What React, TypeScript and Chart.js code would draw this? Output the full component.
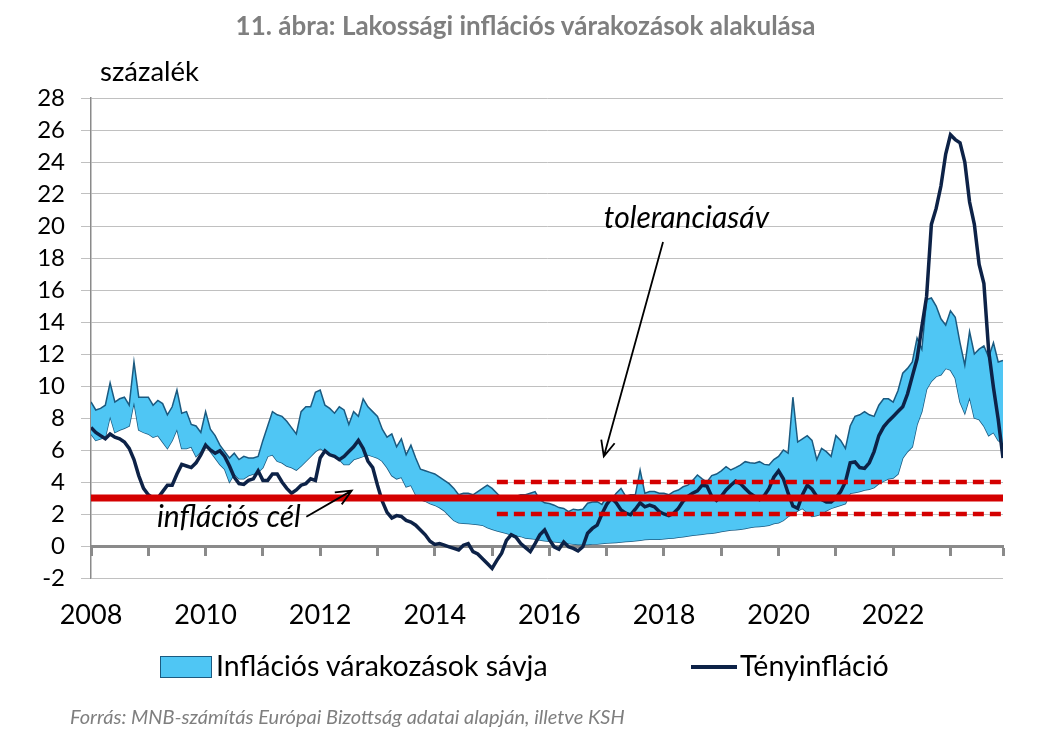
import React, { useEffect, useRef } from 'react';
import { Chart, registerables } from 'chart.js';

Chart.register(...registerables);

// ---------- data (monthly, Jan 2008 = month 0 … Dec 2023 = month 191) ----------
const START_YEAR = 2008;
const yearTickMonths = [0, 12, 24, 36, 48, 60, 72, 84, 96, 108, 120, 132, 144, 156, 168, 180, 191];
const labeledYears = ['2008', '2010', '2012', '2014', '2016', '2018', '2020', '2022'];

// Tényinfláció (%)
const actualInflation = [
  7.4, 7.1, 6.9, 6.7, 7.0, 6.8, 6.7, 6.5, 6.1, 5.4, 4.4, 3.6, // 2008
  3.2, 3.0, 3.0, 3.4, 3.8, 3.8, 4.5, 5.1, 5.0, 4.9, 5.2, 5.7, // 2009
  6.3, 6.0, 5.8, 5.95, 5.6, 5.0, 4.3, 3.9, 3.85, 4.1, 4.2, 4.7, // 2010
  4.1, 4.1, 4.5, 4.5, 4.0, 3.6, 3.3, 3.5, 3.8, 3.9, 4.2, 4.1, // 2011
  5.5, 5.95, 5.7, 5.6, 5.4, 5.6, 5.9, 6.2, 6.6, 6.1, 5.3, 4.9, // 2012
  3.8, 2.8, 2.1, 1.75, 1.9, 1.85, 1.6, 1.5, 1.3, 1.0, 0.7, 0.3, // 2013
  0.1, 0.15, 0.05, -0.05, -0.15, -0.25, 0.05, 0.15, -0.35, -0.5, -0.8, -1.1, // 2014
  -1.4, -0.9, -0.45, 0.35, 0.7, 0.55, 0.15, -0.1, -0.35, 0.15, 0.7, 1.0, // 2015
  0.4, -0.05, -0.2, 0.25, -0.05, -0.15, -0.3, -0.05, 0.8, 1.1, 1.3, 2.0, // 2016
  2.6, 3.0, 2.7, 2.25, 2.05, 1.95, 2.3, 2.7, 2.45, 2.55, 2.45, 2.15, // 2017
  2.0, 1.9, 2.05, 2.35, 2.8, 3.1, 3.3, 3.45, 3.8, 3.75, 3.1, 2.85, // 2018
  3.1, 3.5, 3.8, 4.05, 3.9, 3.6, 3.3, 3.1, 2.9, 3.15, 3.6, 4.3, // 2019
  4.7, 4.2, 3.3, 2.5, 2.35, 3.2, 3.8, 3.55, 3.1, 2.9, 2.75, 2.75, // 2020
  3.0, 3.4, 4.0, 5.2, 5.25, 4.9, 4.85, 5.2, 5.9, 6.9, 7.45, 7.8, // 2021
  8.1, 8.4, 8.7, 9.5, 10.6, 11.7, 13.7, 15.6, 20.1, 21.1, 22.5, 24.5, // 2022
  25.7, 25.4, 25.2, 24.0, 21.5, 20.1, 17.6, 16.4, 12.2, 9.9, 7.9, 5.5, // 2023
];

// Inflációs várakozások sávja – alsó szél (%)
const bandLower = [
  7.0, 6.6, 6.7, 6.8, 8.1, 7.1, 7.25, 7.36, 7.5, 9.0, 7.25, 7.1, // 2008
  7.0, 6.8, 6.9, 6.5, 6.1, 6.6, 7.3, 6.1, 6.1, 6.2, 5.6, 5.9, // 2009
  6.5, 5.9, 5.5, 5.1, 4.8, 4.0, 4.5, 4.2, 4.2, 4.4, 4.5, 4.6, // 2010
  4.9, 5.6, 5.7, 5.3, 5.2, 5.0, 4.9, 4.75, 5.0, 5.3, 5.6, 5.9, // 2011
  6.1, 5.9, 5.8, 5.6, 5.4, 5.1, 5.1, 5.4, 5.5, 5.6, 5.7, 5.6, // 2012
  5.5, 5.3, 4.9, 4.4, 4.2, 4.3, 3.7, 3.8, 3.2, 2.9, 2.8, 2.65, // 2013
  2.55, 2.4, 2.2, 1.9, 1.6, 1.45, 1.42, 1.4, 1.38, 1.35, 1.3, 1.15, // 2014
  1.05, 0.95, 0.88, 0.8, 0.7, 0.65, 0.6, 0.5, 0.47, 0.43, 0.38, 0.33, // 2015
  0.3, 0.27, 0.23, 0.18, 0.15, 0.12, 0.1, 0.1, 0.1, 0.12, 0.13, 0.15, // 2016
  0.18, 0.2, 0.22, 0.25, 0.28, 0.3, 0.33, 0.36, 0.4, 0.42, 0.42, 0.42, // 2017
  0.45, 0.48, 0.5, 0.54, 0.58, 0.62, 0.67, 0.7, 0.74, 0.78, 0.8, 0.85, // 2018
  0.9, 0.95, 1.0, 1.02, 1.05, 1.1, 1.15, 1.2, 1.22, 1.25, 1.3, 1.4, // 2019
  1.45, 1.6, 1.85, 2.0, 2.2, 2.35, 2.1, 1.85, 1.9, 2.0, 2.2, 2.35, // 2020
  2.45, 2.55, 2.65, 3.3, 3.35, 3.4, 3.5, 3.55, 3.65, 3.9, 4.05, 4.2, // 2021
  4.25, 4.5, 5.5, 5.9, 6.2, 7.6, 8.4, 9.8, 10.3, 10.6, 10.7, 11.1, // 2022
  11.0, 10.5, 9.0, 8.3, 9.3, 8.0, 7.9, 7.5, 6.9, 7.1, 6.6, 6.4, // 2023
];

// Inflációs várakozások sávja – felső szél (%)
const bandUpper = [
  9.0, 8.5, 8.6, 8.8, 10.2, 9.0, 9.2, 9.3, 8.8, 11.5, 9.3, 9.3, // 2008
  9.3, 8.8, 9.1, 8.9, 8.2, 8.7, 9.75, 8.3, 8.4, 7.6, 7.5, 7.1, // 2009
  8.4, 7.3, 6.9, 6.3, 5.9, 5.5, 5.8, 5.4, 5.6, 5.5, 5.5, 5.6, // 2010
  6.6, 7.5, 8.4, 8.2, 8.1, 7.8, 7.4, 7.0, 8.4, 8.7, 8.7, 9.6, // 2011
  9.75, 8.8, 8.6, 8.3, 8.7, 8.5, 7.6, 8.4, 8.1, 9.2, 8.7, 8.4, // 2012
  8.1, 7.3, 6.8, 7.0, 6.2, 6.7, 5.7, 6.3, 5.5, 4.8, 4.7, 4.6, // 2013
  4.5, 4.3, 4.1, 3.9, 3.6, 3.2, 3.3, 3.3, 3.2, 3.4, 3.6, 3.8, // 2014
  3.6, 3.3, 3.0, 3.0, 3.0, 3.1, 3.2, 3.2, 3.3, 3.4, 2.9, 2.7, // 2015
  2.65, 2.55, 2.4, 2.35, 2.15, 2.3, 2.25, 2.3, 2.67, 2.75, 2.77, 2.6, // 2016
  3.1, 2.9, 3.3, 3.6, 3.1, 3.2, 3.2, 4.75, 3.3, 3.4, 3.4, 3.3, // 2017
  3.3, 3.2, 3.4, 3.5, 3.7, 3.8, 4.1, 4.44, 4.2, 4.0, 4.4, 4.5, // 2018
  4.7, 4.96, 4.75, 4.9, 5.06, 5.27, 5.2, 5.17, 5.27, 5.1, 5.06, 5.4, // 2019
  5.6, 6.0, 5.8, 9.3, 6.5, 6.7, 6.9, 6.6, 5.4, 6.1, 5.9, 5.6, // 2020
  6.9, 6.6, 6.1, 7.5, 8.1, 8.2, 8.4, 8.2, 8.1, 8.8, 9.2, 9.2, // 2021
  9.0, 9.7, 10.8, 11.1, 11.5, 13.0, 12.3, 15.4, 15.5, 15.0, 14.2, 13.8, // 2022
  14.7, 14.3, 12.7, 11.3, 13.4, 12.0, 12.3, 12.5, 11.8, 12.7, 11.5, 11.6, // 2023
];

const inflationTarget = 3;
const toleranceLow = 2;
const toleranceHigh = 4;
const toleranceStartMonth = 85;

// annotation anchors (data coordinates: month index, percent)
const toleranceLabel = { text: 'toleranciasáv', x: 107.4, y: 19.9 };
const toleranceArrow = { from: [119.8, 19.0], to: [107.4, 5.6] };
const targetLabel = { text: 'inflációs cél', x: 13.8, y: 1.2 };
const targetArrow = { from: [45.1, 1.83], to: [54.6, 3.46] };

// ---------- styles ----------
const FONT = 'Lato, "Open Sans", sans-serif';
const BAND_FILL = '#4fc6f4';
const BAND_EDGE = '#1b5a80';
const NAVY = '#0d2247';
const RED = '#d40000';
const GRID = '#c0c0c0';
const AXIS = '#8a8a8a';

const W = 1051;
const H = 740;

const annotationPlugin = {
  id: 'mnbAnnotations',
  afterDatasetsDraw(chart: any) {
    const { ctx, scales } = chart;
    const xs = scales.x;
    const ys = scales.y;
    const px = (m: number) => xs.getPixelForValue(m);
    const py = (v: number) => ys.getPixelForValue(v);
    const arrow = (a: { from: number[]; to: number[] }) => {
      const x1 = px(a.from[0]);
      const y1 = py(a.from[1]);
      const x2 = px(a.to[0]);
      const y2 = py(a.to[1]);
      const ang = Math.atan2(y2 - y1, x2 - x1);
      const len = 17;
      const spread = 0.42;
      ctx.save();
      ctx.strokeStyle = '#000';
      ctx.lineWidth = 1.8;
      ctx.beginPath();
      ctx.moveTo(x1, y1);
      ctx.lineTo(x2, y2);
      ctx.moveTo(x2 - len * Math.cos(ang - spread), y2 - len * Math.sin(ang - spread));
      ctx.lineTo(x2, y2);
      ctx.lineTo(x2 - len * Math.cos(ang + spread), y2 - len * Math.sin(ang + spread));
      ctx.stroke();
      ctx.restore();
    };
    arrow(toleranceArrow);
    arrow(targetArrow);
    ctx.save();
    ctx.fillStyle = '#000';
    ctx.textBaseline = 'alphabetic';
    ctx.textAlign = 'left';
    ctx.font = `italic 30px ${FONT}`;
    ctx.fillText(toleranceLabel.text, px(toleranceLabel.x), py(toleranceLabel.y));
    ctx.fillText(targetLabel.text, px(targetLabel.x), py(targetLabel.y));
    ctx.restore();
  },
};

export default function App() {
  const canvasRef = useRef<HTMLCanvasElement | null>(null);

  useEffect(() => {
    document.body.style.margin = '0';
    const canvas = canvasRef.current;
    if (!canvas) return;
    const pts = (arr: number[]) => arr.map((y, i) => ({ x: i, y }));
    const lastMonth = actualInflation.length - 1;
    const setYearTicks = (axis: any) => {
      axis.ticks = yearTickMonths.map((v) => ({ value: v }));
    };

    const chart = new Chart(canvas, {
      type: 'line',
      data: {
        datasets: [
          {
            label: 'alsó',
            data: pts(bandLower),
            borderColor: BAND_EDGE,
            borderWidth: 1.5,
            pointRadius: 0,
            fill: false,
            order: 5,
            xAxisID: 'x',
            yAxisID: 'y',
          },
          {
            label: 'Inflációs várakozások sávja',
            data: pts(bandUpper),
            borderColor: BAND_EDGE,
            borderWidth: 1.5,
            backgroundColor: BAND_FILL,
            pointRadius: 0,
            fill: '-1',
            order: 4,
            xAxisID: 'x',
            yAxisID: 'y',
          },
          {
            label: 'Tényinfláció',
            data: pts(actualInflation),
            borderColor: NAVY,
            borderWidth: 3.5,
            pointRadius: 0,
            fill: false,
            order: 3,
            xAxisID: 'x',
            yAxisID: 'y',
          },
          {
            label: 'Inflációs cél',
            data: [
              { x: 0, y: inflationTarget },
              { x: lastMonth, y: inflationTarget },
            ],
            borderColor: RED,
            borderWidth: 7,
            pointRadius: 0,
            fill: false,
            order: 1,
            xAxisID: 'x',
            yAxisID: 'y',
          },
          {
            label: 'Toleranciasáv felső',
            data: [
              { x: toleranceStartMonth, y: toleranceHigh },
              { x: lastMonth, y: toleranceHigh },
            ],
            borderColor: RED,
            borderWidth: 4.5,
            borderDash: [11, 6],
            pointRadius: 0,
            fill: false,
            order: 0,
            xAxisID: 'x',
            yAxisID: 'y',
          },
          {
            label: 'Toleranciasáv alsó',
            data: [
              { x: toleranceStartMonth, y: toleranceLow },
              { x: lastMonth, y: toleranceLow },
            ],
            borderColor: RED,
            borderWidth: 4.5,
            borderDash: [11, 6],
            pointRadius: 0,
            fill: false,
            order: 0,
            xAxisID: 'x',
            yAxisID: 'y',
          },
        ],
      },
      options: {
        responsive: false,
        animation: false,
        devicePixelRatio: 1,
        layout: { padding: { left: 0, right: W - 1003, top: 98, bottom: 0 } },
        elements: { line: { tension: 0 } },
        plugins: {
          legend: { display: false },
          tooltip: { enabled: false },
          title: { display: false },
        },
        scales: {
          x: {
            type: 'linear',
            min: 0,
            max: lastMonth,
            position: 'bottom',
            grid: { display: false, drawTicks: false },
            border: { display: false },
            afterBuildTicks: setYearTicks,
            afterFit: (s: any) => {
              s.height = H - 578;
            },
            ticks: {
              autoSkip: false,
              maxRotation: 0,
              padding: 21,
              color: '#000',
              font: { family: FONT, size: 27 },
              callback: (v: any) => {
                const m = Number(v);
                if (m % 24 !== 0) return '';
                const label = labeledYears[m / 24];
                return label ?? String(START_YEAR + m / 12);
              },
            },
          },
          x0: {
            type: 'linear',
            axis: 'x',
            min: 0,
            max: lastMonth,
            position: { y: 0 },
            afterBuildTicks: setYearTicks,
            grid: {
              drawOnChartArea: false,
              drawTicks: true,
              tickLength: 8,
              tickWidth: 3,
              tickColor: AXIS,
            },
            border: { display: true, color: AXIS, width: 3 },
            ticks: { display: false },
          },
          y: {
            type: 'linear',
            min: -2,
            max: 28,
            afterFit: (s: any) => {
              s.width = 91;
            },
            ticks: {
              stepSize: 2,
              padding: 16,
              color: '#000',
              font: { family: FONT, size: 24 },
            },
            grid: {
              color: GRID,
              lineWidth: 1,
              tickLength: 10,
              tickColor: GRID,
            },
            border: { display: true, color: AXIS, width: 1.5 },
          },
        },
      },
      plugins: [annotationPlugin],
    } as any);

    return () => {
      chart.destroy();
    };
  }, []);

  const abs = (extra: React.CSSProperties): React.CSSProperties => ({
    position: 'absolute',
    lineHeight: 1,
    whiteSpace: 'nowrap',
    fontFamily: FONT,
    margin: 0,
    ...extra,
  });

  return (
    <div style={{ position: 'relative', width: W, height: H, background: '#fff', overflow: 'hidden' }}>
      <canvas ref={canvasRef} width={W} height={H} style={{ position: 'absolute', left: 0, top: 0, width: W, height: H }} />
      <div style={abs({ left: 0, width: W, top: 12, textAlign: 'center', fontSize: 26, fontWeight: 700, color: '#7f7f7f' })}>
        11. ábra: Lakossági inflációs várakozások alakulása
      </div>
      <div style={abs({ left: 100, top: 57, fontSize: 27.5, color: '#000' })}>százalék</div>
      {/* legend */}
      <div
        style={{
          position: 'absolute',
          left: 160,
          top: 656,
          width: 52,
          height: 22,
          boxSizing: 'border-box',
          background: BAND_FILL,
          border: `1.5px solid ${BAND_EDGE}`,
        }}
      />
      <div style={abs({ left: 216, top: 651, fontSize: 28.5, color: '#000' })}>Inflációs várakozások sávja</div>
      <div style={{ position: 'absolute', left: 691, top: 665, width: 46, height: 4, background: NAVY }} />
      <div style={abs({ left: 740, top: 651, fontSize: 28.5, color: '#000' })}>Tényinfláció</div>
      <div style={abs({ left: 70, top: 706, fontSize: 20, fontStyle: 'italic', color: '#7f7f7f' })}>
        Forrás: MNB-számítás Európai Bizottság adatai alapján, illetve KSH
      </div>
    </div>
  );
}
